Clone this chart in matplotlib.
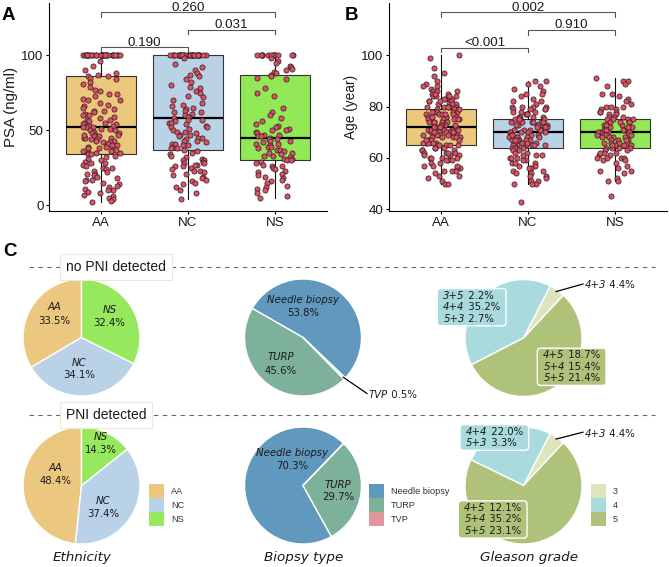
import numpy as np
import matplotlib
matplotlib.use("Agg")
import matplotlib.pyplot as plt
from matplotlib.patches import Patch, FancyBboxPatch
from matplotlib.transforms import Bbox

# ---------------- data ----------------
groups = ['AA', 'NC', 'NS']
group_colors = ['#ECC87D', '#B9D2E6', '#92E856']

# Panel A: PSA (ng/ml) per patient
psa_aa = [100] * 30 + [96, 93, 90, 88, 87, 86, 86,
          85, 84, 82, 81, 79, 77, 76, 74, 74, 73, 71, 70, 70, 68, 67, 66, 65, 64, 63,
          63, 62, 61, 60, 60, 59, 58, 57, 57, 56, 55, 55, 54, 54, 53, 53, 52, 52, 52,
          51, 51, 50, 50, 49, 48, 48, 47, 47, 46, 46, 45, 45, 45, 44, 44, 43, 42, 42,
          41, 41, 40, 40, 39, 39, 38, 38, 37, 37, 36, 36, 35, 35, 35, 34, 34, 43, 47,
          33, 32, 31, 30, 29, 28, 28, 27, 26, 25, 24, 23, 22, 21, 21, 20, 19, 18, 17,
          16, 15, 14, 13, 12, 11, 10, 10, 9, 8, 7, 6, 5, 4, 3, 2, 25, 17]
psa_nc = [100] * 32 + [98, 94, 92, 90, 88, 87, 86, 84, 82, 80, 79, 78, 76, 75, 73,
          72, 70, 68, 67, 66, 65, 64, 63, 62, 62, 61, 60, 59, 59, 58,
          57, 57, 56, 55, 55, 54, 53, 52, 52, 51, 50, 49, 49, 48, 47, 47, 46, 45, 45,
          44, 43, 43, 42, 41, 41, 40, 40, 39, 38, 38, 37,
          36, 35, 34, 33, 32, 31, 30, 30, 29, 28, 28, 27, 26, 26, 25, 24, 23, 23, 22,
          21, 20, 19, 18, 17, 16, 15, 14, 12, 10, 8, 4, 27]
psa_ns = [100] * 14 + [98, 96, 95, 93, 92, 91, 90, 89, 88, 87,
          86, 85, 84, 78, 75, 73, 65, 62, 60, 58, 56, 54, 53, 52, 51, 50, 50, 49, 48,
          47, 47, 46, 46, 45,
          44, 44, 43, 43, 42, 41, 41, 40, 39, 39, 38, 37, 37, 36, 35, 35, 34, 33, 33,
          32, 31, 31, 30, 30,
          29, 28, 27, 26, 26, 25, 24, 23, 22, 21, 20, 19, 18, 17, 16, 15, 13, 12, 11,
          10, 8, 6, 5]

# Panel B: age (year) per patient
age_aa = [100, 99, 95, 93, 92, 90, 89, 88, 88, 87, 86, 86, 85, 85, 84, 84, 84, 83, 83,
          83, 82, 82, 82, 81, 81, 81, 81, 80, 80, 80, 80, 80, 86, 85, 83, 82, 84,
          79, 79, 79, 78, 78, 78, 78, 77, 77, 77, 77, 76, 76, 76, 76, 75, 75, 75, 75,
          74, 74, 74, 74, 73, 73, 73, 73, 72, 72, 72, 72, 78, 76, 75, 74, 73, 77, 79,
          71, 71, 71, 71, 70, 70, 70, 70, 70, 69, 69, 69, 69, 68, 68, 68, 68, 67, 67,
          67, 67, 66, 66, 66, 66, 65, 65, 65, 65, 65, 70, 69, 68, 67, 66, 71, 72, 70,
          64, 64, 64, 63, 63, 63, 62, 62, 62, 61, 61, 60, 60, 60, 60, 59, 59, 58, 58,
          57, 57, 56, 56, 55, 55, 55, 54, 53, 53, 52, 51, 50, 50, 62, 61, 59, 57]
age_nc = [90, 90, 89, 88, 87, 86, 85, 85, 84, 83, 82, 81, 80, 80, 80, 79, 79, 79, 78,
          78, 78, 77, 77, 77, 76, 76, 76, 76, 82, 80, 79,
          75, 75, 75, 74, 74, 74, 74, 73, 73, 73, 73, 72, 72, 72, 72, 71, 71, 71, 71,
          70, 70, 70, 70, 75, 74, 73, 72, 71, 70, 74, 72,
          69, 69, 69, 69, 68, 68, 68, 68, 67, 67, 67, 67, 66, 66, 66, 66, 65, 65, 65,
          65, 64, 64, 64, 64, 69, 68, 67, 66, 65, 64, 67,
          63, 63, 62, 62, 61, 61, 60, 60, 60, 59, 59, 58, 58, 57, 57, 56, 56, 55, 55,
          54, 54, 53, 53, 52, 51, 51, 50, 50, 50, 43, 61, 58]
age_ns = [91, 90, 90, 89, 88, 85, 85, 84, 83, 82, 81, 80, 80, 79, 79, 78, 78, 77, 77,
          76, 76, 76, 80, 78,
          75, 75, 75, 74, 74, 74, 73, 73, 73, 72, 72, 72, 71, 71, 71, 70, 70, 70, 70,
          75, 74, 73, 72, 71,
          69, 69, 69, 68, 68, 68, 67, 67, 67, 66, 66, 66, 65, 65, 65, 64, 64, 64, 69,
          68, 67, 66, 65, 64,
          63, 63, 62, 62, 61, 61, 60, 60, 60, 60, 59, 59, 58, 57, 56, 55, 55, 54, 52,
          51, 51, 45, 62]

# box statistics: (lower whisker, Q1, median, Q3, upper whisker)
psa_box = [(2, 34, 52, 86, 100), (4, 37, 58, 100, 100), (5, 30, 45, 87, 100)]
age_box = [(50, 65, 72, 79, 100), (50, 64, 70, 75, 90), (51, 64, 70, 75, 91)]

psa_pvals = [(1, 2, '0.190'), (2, 3, '0.031'), (1, 3, '0.260')]
age_pvals = [(1, 2, '<0.001'), (2, 3, '0.910'), (1, 3, '0.002')]

# Panel C: percentages
eth_no_pni = [33.5, 34.1, 32.4]
eth_pni = [48.4, 37.4, 14.3]
eth_colors = ['#EBC77F', '#B9D2E7', '#96E85C']

biopsy_types = ['Needle biopsy', 'TURP', 'TVP']
biopsy_no_pni = [53.8, 45.6, 0.5]
biopsy_pni = [70.3, 29.7, 0.0]
biopsy_colors = ['#6198BE', '#7DB199', '#E3959C']

gleason_grades = ['3', '4', '5']
gleason_no_pni = [4.4, 40.1, 55.5]
gleason_pni = [4.4, 25.3, 70.3]
gleason_colors = ['#DEE5BC', '#A9DBDE', '#AFC27A']
scores_no_pni = {'3': [('4+3', '4.4%')],
                 '4': [('3+5', '2.2%'), ('4+4', '35.2%'), ('5+3', '2.7%')],
                 '5': [('4+5', '18.7%'), ('5+4', '15.4%'), ('5+5', '21.4%')]}
scores_pni = {'3': [('4+3', '4.4%')],
              '4': [('4+4', '22.0%'), ('5+3', '3.3%')],
              '5': [('4+5', '12.1%'), ('5+4', '35.2%'), ('5+5', '23.1%')]}

# ---------------- figure ----------------
plt.rcParams['font.family'] = ['Liberation Sans', 'DejaVu Sans']
W, H = 669, 567
fig = plt.figure(figsize=(W / 100, H / 100), dpi=100)

# full-figure axes in pixel units (y up) for panel C
ax_c = fig.add_axes([0, 0, 1, 1])
ax_c.patch.set_visible(False)


def px_axes(left, top, right, bottom):
    return fig.add_axes([left / W, 1 - bottom / H, (right - left) / W, (bottom - top) / H])


rng = np.random.default_rng(11)  # horizontal jitter of the points only


def box_panel(ax, box_stats, points, pvals, brackets, ylim, yticks, ylabel, ylabel_size):
    stats = [dict(whislo=s[0], q1=s[1], med=s[2], q3=s[3], whishi=s[4]) for s in box_stats]
    parts = ax.bxp(stats, positions=[1, 2, 3], widths=0.8, patch_artist=True,
                   showfliers=False, showcaps=False,
                   boxprops=dict(edgecolor='#333333', linewidth=0.8),
                   whiskerprops=dict(color='#111111', linewidth=0.8),
                   medianprops=dict(color='black', linewidth=1.6))
    for patch, c in zip(parts['boxes'], group_colors):
        patch.set_facecolor(c)
    for i, vals in enumerate(points):
        xs = i + 1 + rng.uniform(-0.22, 0.22, len(vals))
        ax.scatter(xs, vals, s=14, c='#E24E64', edgecolors='#222222',
                   linewidths=0.5, zorder=3)
    for (i, j, label), (yb, drop) in zip(pvals, brackets):
        ax.plot([i, i, j, j], [yb - drop, yb, yb, yb - drop], color='#555555',
                lw=0.8, clip_on=False)
        ax.annotate(label, xy=((i + j) / 2, yb), xytext=(0, 1.2),
                    textcoords='offset points', ha='center', va='baseline',
                    fontsize=9.6, color='#1a1a1a')
    ax.set_xlim(0.4, 3.6)
    ax.set_ylim(*ylim)
    ax.set_xticks([1, 2, 3], groups)
    ax.set_yticks(yticks)
    ax.set_ylabel(ylabel, fontsize=ylabel_size, color='#1a1a1a', labelpad=2)
    for side in ['top', 'right']:
        ax.spines[side].set_visible(False)
    for side in ['left', 'bottom']:
        ax.spines[side].set_linewidth(0.8)
    ax.tick_params(length=2.5, width=0.8, pad=1.5, labelsize=9.6, labelcolor='#1a1a1a')


ax_a = px_axes(49, 3, 327, 211)
box_panel(ax_a, psa_box, [psa_aa, psa_nc, psa_ns], psa_pvals,
          [(105.1, 3.8), (116.7, 2.9), (128.4, 3.3)], (-4, 134.7), [0, 50, 100],
          'PSA (ng/ml)', 10.8)

ax_b = px_axes(389, 3, 667, 211)
box_panel(ax_b, age_box, [age_aa, age_nc, age_ns], age_pvals,
          [(103.0, 1.6), (109.9, 1.8), (116.8, 1.9)], (39.3, 120.4), [40, 60, 80, 100],
          'Age (year)', 9.8)

for letter, x, y in [('A', 2, 20), ('B', 345, 20), ('C', 3, 256)]:
    fig.text(x / W, 1 - y / H, letter, fontsize=13.5, fontweight='bold', va='baseline')

# ---------------- panel C ----------------
R = 58.5
PIE_FONT = dict(family='DejaVu Sans', fontsize=7.3, color='#1a1a1a')
score_boxes = []


def draw_pie(vals, colors, cx, cy, start):
    wedges, _ = ax_c.pie(vals, colors=colors, startangle=start, counterclock=True,
                         radius=R, center=(cx, H - cy),
                         wedgeprops=dict(edgecolor='white', linewidth=1.0))
    return wedges


def pie_label(x, y, name, pct):
    ax_c.text(x, H - y + 6.5, name, style='italic', ha='center', va='center', **PIE_FONT)
    ax_c.text(x, H - y - 6.5, pct, ha='center', va='center', **PIE_FONT)


def outside_label(wedge, x, y, name, pct):
    ang = np.deg2rad((wedge.theta1 + wedge.theta2) / 2)
    cx, cy = wedge.center
    ax_c.plot([cx + 0.97 * wedge.r * np.cos(ang), x - 2],
              [cy + 0.97 * wedge.r * np.sin(ang), H - y + 1.5], color='black', lw=0.9)
    t = ax_c.text(x, H - y, name, style='italic', ha='left', va='center', **PIE_FONT)
    ax_c.annotate(' ' + pct, xy=(1, 0.5), xycoords=t, ha='left', va='center', **PIE_FONT)


def score_box(x, y, rows, color):
    t = ax_c.text(x, H - y, '\n'.join(g for g, _ in rows), style='italic', ha='left',
                  va='center', multialignment='left', zorder=4, **PIE_FONT)
    t2 = ax_c.annotate('\n'.join(' ' + p for _, p in rows), xy=(1, 0.5), xycoords=t,
                       ha='left', va='center', multialignment='left', zorder=4, **PIE_FONT)
    score_boxes.append((t, t2, color))


def section(y, label, xc):
    ax_c.plot([29, 655], [H - y, H - y], color='#666666', lw=0.8, ls=(0, (4, 4)))
    ax_c.text(xc, H - y, label, ha='center', va='center', fontsize=10, color='#1a1a1a',
              bbox=dict(boxstyle='square,pad=0.42', fc='white', ec='#EFE9D2', lw=0.8))


section(267, 'no PNI detected', 116)
section(415, 'PNI detected', 106)

# ethnicity
draw_pie(eth_no_pni, eth_colors, 81.5, 337.5, 90)
pie_label(54, 314, 'AA', f'{eth_no_pni[0]}%')
pie_label(79, 369, 'NC', f'{eth_no_pni[1]}%')
pie_label(109.5, 316.5, 'NS', f'{eth_no_pni[2]}%')
draw_pie(eth_pni, eth_colors, 81.5, 485.5, 90)
pie_label(55.5, 474.5, 'AA', f'{eth_pni[0]}%')
pie_label(103.5, 507.5, 'NC', f'{eth_pni[1]}%')
pie_label(100.5, 443.5, 'NS', f'{eth_pni[2]}%')

# biopsy type
w = draw_pie(biopsy_no_pni, biopsy_colors, 303, 337.5, -43.7)
pie_label(303, 306.5, biopsy_types[0], f'{biopsy_no_pni[0]}%')
pie_label(281, 364, biopsy_types[1], f'{biopsy_no_pni[1]}%')
outside_label(w[2], 369, 395, biopsy_types[2], f'{biopsy_no_pni[2]}%')
draw_pie(biopsy_pni, biopsy_colors, 303, 485.5, 46)
pie_label(292, 459.5, biopsy_types[0], f'{biopsy_pni[0]}%')
pie_label(338, 491, biopsy_types[1], f'{biopsy_pni[1]}%')

# gleason grade
w = draw_pie(gleason_no_pni, gleason_colors, 523.5, 338, 47)
outside_label(w[0], 585, 285.5, *scores_no_pni['3'][0])
score_box(443.3, 307.2, scores_no_pni['4'], gleason_colors[1])
score_box(543.3, 366.8, scores_no_pni['5'], gleason_colors[2])
w = draw_pie(gleason_pni, gleason_colors, 523.5, 485.5, 47)
outside_label(w[0], 585, 433.7, *scores_pni['3'][0])
score_box(466, 437.5, scores_pni['4'], gleason_colors[1])
score_box(464.3, 519.5, scores_pni['5'], gleason_colors[2])

# legends
for labels, colors, x in [(groups, eth_colors, 149), (biopsy_types, biopsy_colors, 369),
                          (gleason_grades, gleason_colors, 591)]:
    handles = [Patch(facecolor=c, edgecolor='none', label=l) for l, c in zip(labels, colors)]
    fig.legend(handles=handles, loc='upper left', bbox_to_anchor=(x, H - 484),
               bbox_transform=ax_c.transData, frameon=False,
               prop=dict(family='Liberation Sans', size=6.6), labelcolor='#333333',
               handlelength=1.63, handleheight=1.96, labelspacing=0, handletextpad=0.76,
               borderpad=0, borderaxespad=0)

for title, x in [('Ethnicity', 82), ('Biopsy type', 304), ('Gleason grade', 529)]:
    ax_c.text(x, H - 558, title, style='italic', ha='center', va='center',
              family='DejaVu Sans', fontsize=9.7, color='#1a1a1a')

ax_c.set_xlim(0, W)
ax_c.set_ylim(0, H)
ax_c.axis('off')

# rounded boxes behind the Gleason score labels, sized from the rendered text
fig.canvas.draw()
renderer = fig.canvas.get_renderer()
to_data = ax_c.transData.inverted()
for t, t2, color in score_boxes:
    bb = Bbox.union([t.get_window_extent(renderer), t2.get_window_extent(renderer)])
    (x0, y0), (x1, y1) = to_data.transform([[bb.x0, bb.y0], [bb.x1, bb.y1]])
    padx, pady = 6.0, 2.0
    ax_c.add_patch(FancyBboxPatch((x0 - padx, y0 - pady), (x1 - x0) + 2 * padx,
                                  (y1 - y0) + 2 * pady,
                                  boxstyle='round,pad=0,rounding_size=3.5',
                                  fc=color, ec='white', lw=1.0, zorder=3))

fig.savefig('out.png', dpi=100)
